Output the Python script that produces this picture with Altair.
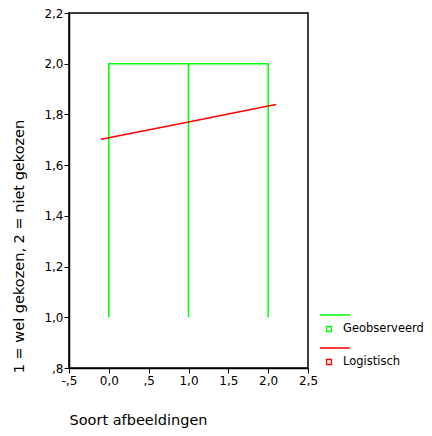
import altair as alt
import pandas as pd

# Observed data path (Geobserveerd)
obs_x = [0, 0, 1, 1, 1, 2, 2]
obs_y = [1, 2, 2, 1, 2, 2, 1]
# Logistic fit (Logistisch)
log_x = [-0.1, 0, 1, 2, 2.1]
log_y = [1.702, 1.708, 1.770, 1.833, 1.839]

series = ["Geobserveerd", "Logistisch"]
colors = ["#00ff00", "#ff0000"]
x_ticks = [-0.5, 0, 0.5, 1, 1.5, 2, 2.5]
y_ticks = [0.8, 1.0, 1.2, 1.4, 1.6, 1.8, 2.0, 2.2]

obs = pd.DataFrame({"x": obs_x, "y": obs_y, "s": series[0], "o": list(range(len(obs_x)))})
log = pd.DataFrame({"x": log_x, "y": log_y, "s": series[1], "o": list(range(len(log_x)))})
data = pd.concat([obs, log], ignore_index=True)

label_expr = ("(datum.value < 0 ? '-' : '') + (abs(datum.value) < 0.001 ? '0,0' : "
              "replace(replace(format(abs(datum.value), '.1f'), '0.', '.'), '.', ','))")

FONT = "DejaVu Sans"

leg = alt.Legend(
    title=None, orient="none", legendX=249, legendY=305,
    symbolType="M-0.9,-1.4L2.1,-1.4M-0.25,-0.25L0.25,-0.25L0.25,0.25L-0.25,0.25Z",
    symbolSize=400, symbolStrokeWidth=1.3, symbolFillColor="white",
    labelFont=FONT, labelFontSize=11.5, labelColor="black", labelOffset=3,
    rowPadding=10, padding=0, offset=0,
)

color = alt.Color("s:N", scale=alt.Scale(domain=series, range=colors), legend=leg)

base = alt.Chart(data).encode(
    x=alt.X("x:Q", scale=alt.Scale(domain=[-0.5, 2.5], nice=False, zero=False),
            axis=alt.Axis(values=x_ticks, labelExpr=label_expr, title="Soort afbeeldingen",
                          titleX=0, titleY=56, titleAlign="left", titleAnchor="start",
                          titleBaseline="alphabetic", labelPadding=2, labelFlush=False)),
    y=alt.Y("y:Q", scale=alt.Scale(domain=[0.8, 2.2], nice=False, zero=False),
            axis=alt.Axis(values=y_ticks, labelExpr=label_expr,
                          title="1 = wel gekozen, 2 = niet gekozen",
                          titleX=-50, titleY=233, titleAlign="center",
                          titleBaseline="middle", titleAngle=270, labelPadding=1)),
    color=color,
    order="o:Q",
)

lines = base.mark_line(strokeWidth=1.5, clip=False)

chart = alt.layer(lines).properties(
    width=239, height=355,
    autosize=alt.AutoSizeParams(type="none"),
    padding={"left": 61, "top": 5, "right": 115, "bottom": 60},
).configure_view(
    stroke="black", strokeWidth=1.5
).configure_axis(
    grid=False, domainColor="black", domainWidth=1.5, tickColor="black", tickSize=5,
    tickWidth=1, labelFont=FONT, labelFontSize=12, labelColor="black",
    titleFont=FONT, titleFontSize=14.5, titleFontWeight="normal", titleColor="black",
)

chart.save("out.html", embed_options={"renderer": "svg", "actions": False})
